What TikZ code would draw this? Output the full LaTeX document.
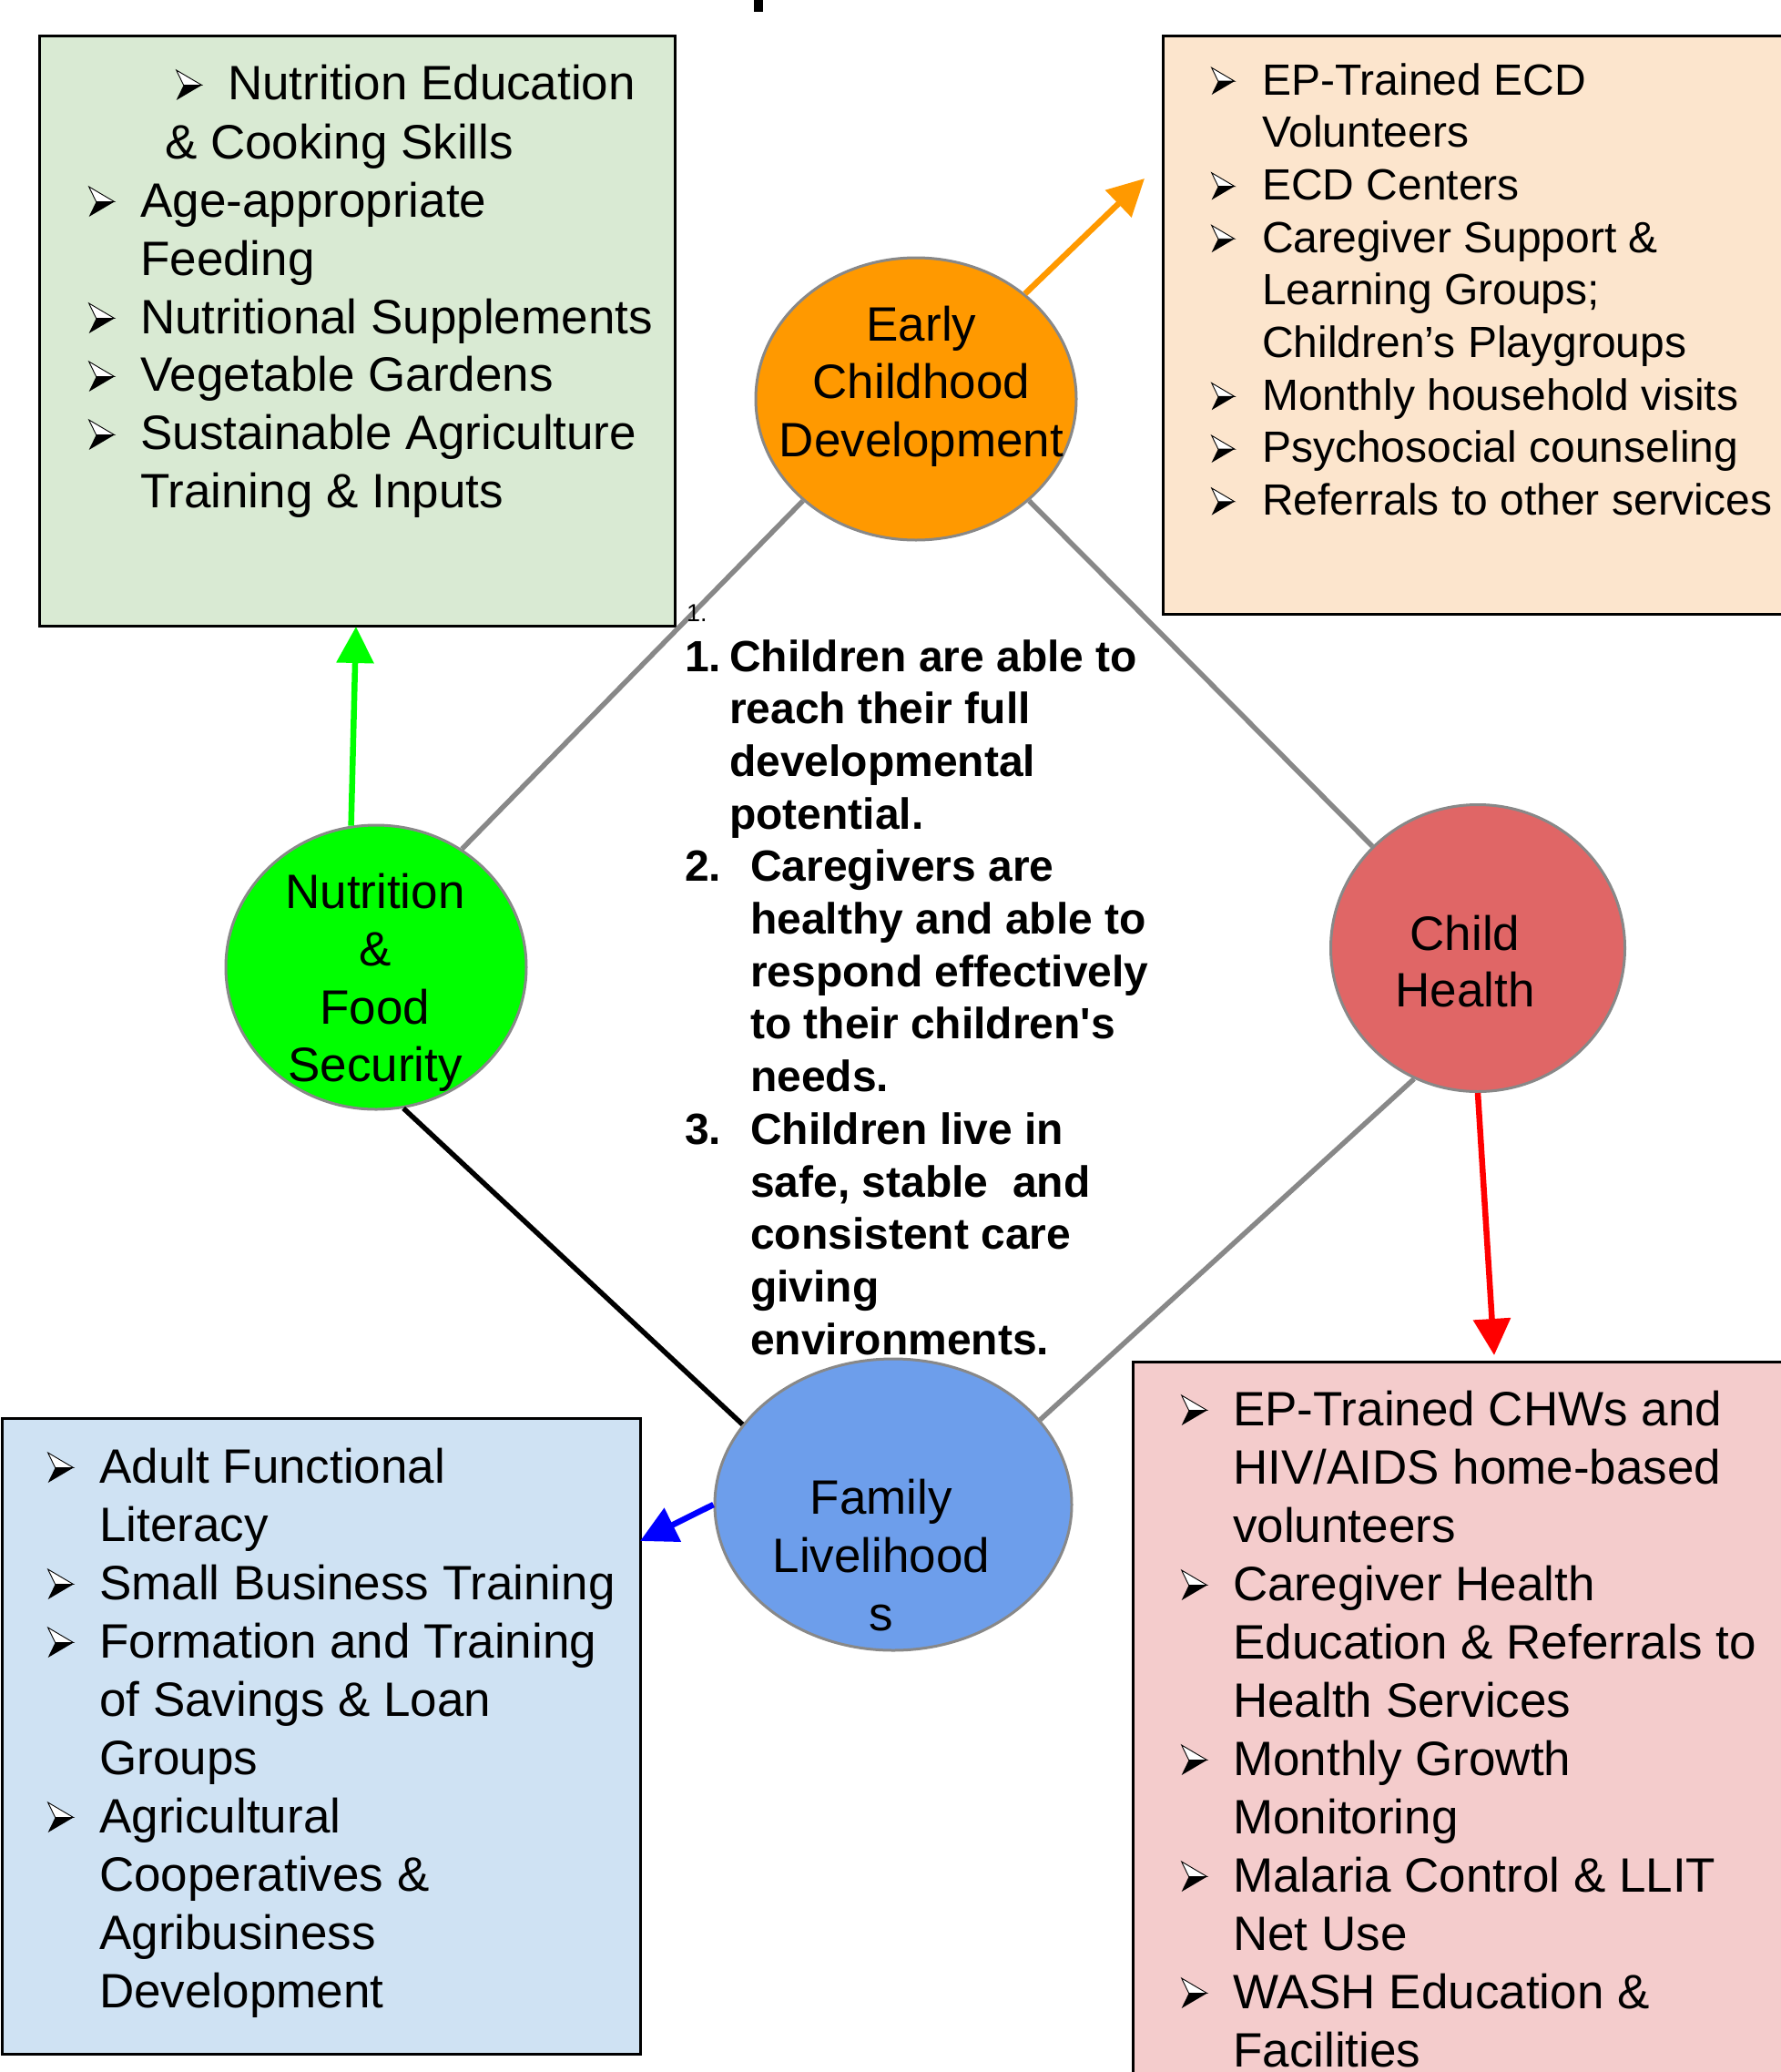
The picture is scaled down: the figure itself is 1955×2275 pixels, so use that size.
\documentclass[tikz,border=0pt]{standalone}
\usepackage{fontspec}
\setmainfont{Liberation Sans}[Ligatures=TeXOff]
\usetikzlibrary{arrows.meta,shapes.geometric}
\definecolor{gbox}{HTML}{D9EAD3}
\definecolor{pbox}{HTML}{FCE5CD}
\definecolor{bbox}{HTML}{CFE2F3}
\definecolor{rbox}{HTML}{F4CCCC}
\definecolor{ecdc}{HTML}{FF9900}
\definecolor{nutc}{HTML}{00FF00}
\definecolor{chc}{HTML}{E06666}
\definecolor{famc}{HTML}{6D9EEB}
\definecolor{linegray}{HTML}{888888}
\newcommand\arrbul[1]{\tikz[baseline=0pt,x=#1pt,y=#1pt]{\filldraw[fill=white,draw=black,line width=0.9pt,line join=miter] (0,33)--(28,16.5)--(8,16.5)--cycle; \fill[black] (8,16.5)--(28,16.5)--(0,0)--cycle;}}
\newcommand\bA{\makebox[57pt][l]{\arrbul{1}}}
\newcommand\iA{\hspace*{57pt}}
\newcommand\bB{\makebox[56pt][l]{\arrbul{0.9}}}
\newcommand\iB{\hspace*{56pt}}
\begin{document}
\begin{tikzpicture}[x=1pt,y=-1pt,
  box/.style={draw=black,line width=3pt,inner sep=0pt,anchor=north west},
  circ/.style={ellipse,draw=linegray,line width=3pt,inner sep=0pt},
  conn/.style={draw=linegray,line width=5.5pt},
  arr/.style={line width=6.5pt,-{Triangle[length=40pt,width=40pt]}},
  txt/.style={inner sep=0pt,anchor=base west},
  ctxt/.style={inner sep=0pt,anchor=base}]
\useasboundingbox (0,0) rectangle (1955,2275);
\fill[black] (828,0) rectangle (838,13);
% boxes
\node[box,fill=gbox,minimum width=698pt,minimum height=648pt] (gb) at (42,38) {};
\node[box,fill=pbox,minimum width=689pt,minimum height=635pt] (pb) at (1276,38) {};
\node[box,fill=bbox,minimum width=701.5pt,minimum height=698pt] (bb) at (0.5,1556) {};
\node[box,fill=rbox,minimum width=722pt,minimum height=796pt] (rb) at (1243,1494) {};
% ellipses
\node[circ,fill=ecdc,minimum width=352pt,minimum height=310pt] (ecd) at (1006,438) {};
\node[circ,fill=nutc,minimum width=330pt,minimum height=312pt] (nut) at (413,1062) {};
\node[circ,fill=chc,minimum width=323pt,minimum height=315pt] (ch) at (1623,1041) {};
\node[circ,fill=famc,minimum width=392pt,minimum height=320pt] (fam) at (981,1652) {};
% ellipse texts
\node[ctxt] (ecdt) at (1012,374) {\parbox[t]{340pt}{\centering\fontsize{53}{63.5}\selectfont Early\\Childhood\\Development}};
\node[ctxt] (nutt) at (412,997) {\parbox[t]{300pt}{\centering\fontsize{53}{63.5}\selectfont Nutrition\\\&\\Food\\Security}};
\node[ctxt] (cht) at (1609,1043) {\parbox[t]{300pt}{\centering\fontsize{53}{62}\selectfont Child\\Health}};
\node[ctxt] (famt) at (968,1662) {\parbox[t]{360pt}{\centering\fontsize{53}{64}\selectfont Family\\Livelihood\\s}};
% connectors
\draw[conn] (ecd.222) -- (nut.54);
\draw[conn] (ecd.318) -- (ch.136);
\draw[conn] (ch.244) -- (fam.30);
\draw[line width=5.5pt,black] (nut.281) -- (fam.152);
% arrows
\coordinate (otip) at (1257,196);
\coordinate (gtip) at (391,688);
\coordinate (rtip) at (1641,1488);
\coordinate (bltip) at (703,1692);
\draw[arr,ecdc] (ecd) -- (otip);
\draw[arr,nutc] (nut.100) -- (gtip);
\draw[arr,red] (ch.south) -- (rtip);
\draw[arr,blue] (fam.west) -- (bltip);
% box texts
\node[txt] (gbt) at (97,110) {\parbox[t]{900pt}{\fontsize{53}{64}\selectfont
\hspace*{96pt}\bA Nutrition Education\\
\hspace*{84pt}\& Cooking Skills\\
\bA Age-appropriate\\
\iA Feeding\\
\bA Nutritional Supplements\\
\bA Vegetable Gardens\\
\bA Sustainable Agriculture\\
\iA Training \& Inputs}};
\node[txt] (pbt) at (1330,104) {\parbox[t]{900pt}{\fontsize{48}{57.7}\selectfont
\bB EP-Trained ECD\\
\iB Volunteers\\
\bB ECD Centers\\
\bB Caregiver Support \&\\
\iB Learning Groups;\\
\iB Children’s Playgroups\\
\bB Monthly household visits\\
\bB Psychosocial counseling\\
\bB Referrals to other services}};
\node[txt] (bbt) at (52,1628) {\parbox[t]{900pt}{\fontsize{53}{64}\selectfont
\bA Adult Functional\\
\iA Literacy\\
\bA Small Business Training\\
\bA Formation and Training\\
\iA of Savings \& Loan\\
\iA Groups\\
\bA Agricultural\\
\iA Cooperatives \&\\
\iA Agribusiness\\
\iA Development}};
\node[txt] (rbt) at (1297,1565) {\parbox[t]{900pt}{\fontsize{53}{64}\selectfont
\bA EP-Trained CHWs and\\
\iA HIV/AIDS home-based\\
\iA volunteers\\
\bA Caregiver Health\\
\iA Education \& Referrals to\\
\iA Health Services\\
\bA Monthly Growth\\
\iA Monitoring\\
\bA Malaria Control \& LLIT\\
\iA Net Use\\
\bA WASH Education \&\\
\iA Facilities}};
% centre text
\node[txt] (small) at (754,682) {\fontsize{27}{30}\selectfont 1.};
\node[txt] (goals) at (752,737) {\parbox[t]{700pt}{\fontsize{48}{57.7}\selectfont\bfseries
\makebox[49pt][l]{1.}Children are able to\\
\hspace*{49pt}reach their full\\
\hspace*{49pt}developmental\\
\hspace*{49pt}potential.\\
\makebox[72pt][l]{2.}Caregivers are\\
\hspace*{72pt}healthy and able to\\
\hspace*{72pt}respond effectively\\
\hspace*{72pt}to their children's\\
\hspace*{72pt}needs.\\
\makebox[72pt][l]{3.}Children live in\\
\hspace*{72pt}safe, stable\ \ and\\
\hspace*{72pt}consistent care\\
\hspace*{72pt}giving\\
\hspace*{72pt}environments.}};
\end{tikzpicture}
\end{document}
